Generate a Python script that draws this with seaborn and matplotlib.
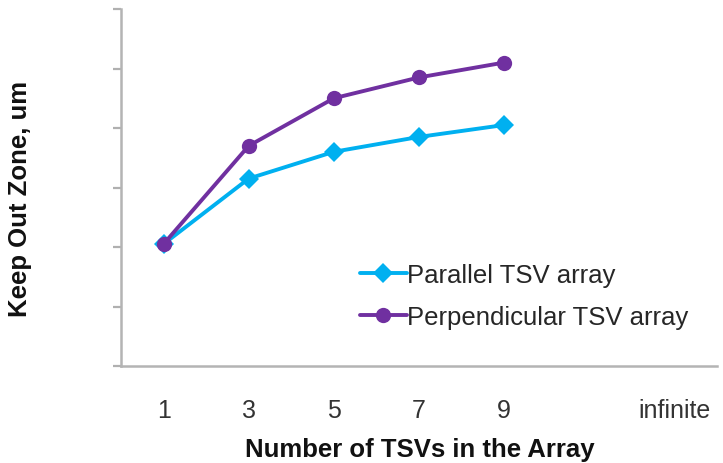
import numpy as np
import pandas as pd
import seaborn as sns
import matplotlib.pyplot as plt

# categories on the x axis (one empty slot before "infinite")
x_labels = ["1", "3", "5", "7", "9", " ", "infinite"]
tsv_counts = ["1", "3", "5", "7", "9"]

# keep out zone, um
parallel = [20.5, 31.5, 36.0, 38.5, 40.5]
perpendicular = [20.5, 37.0, 45.0, 48.5, 51.0]

y_ticks = [0, 10, 20, 30, 40, 50, 60]

sns.set_style("white")
plt.rcParams["font.family"] = ["Liberation Sans", "DejaVu Sans"]

pos = [x_labels.index(c) for c in tsv_counts]
df = pd.DataFrame({
    "pos": pos * 2,
    "kz": parallel + perpendicular,
    "series": ["Parallel TSV array"] * len(pos) + ["Perpendicular TSV array"] * len(pos),
})

fig = plt.figure(figsize=(7.23, 4.64), dpi=100)
ax = fig.add_axes([121 / 723, 97 / 464, 596 / 723, 357 / 464])

sns.lineplot(data=df[df.series == "Parallel TSV array"], x="pos", y="kz",
             color="#00B0F0", marker="D", markersize=10, linewidth=2.8,
             markeredgewidth=0, label="Parallel TSV array", ax=ax)
sns.lineplot(data=df[df.series == "Perpendicular TSV array"], x="pos", y="kz",
             color="#7030A0", marker="o", markersize=11, linewidth=2.8,
             markeredgewidth=0, label="Perpendicular TSV array", ax=ax)

ax.set_xlim(-0.5, len(x_labels) - 0.5)
ax.set_ylim(y_ticks[0], y_ticks[-1])
ax.set_xticks(range(len(x_labels)))
ax.set_xticklabels(x_labels)
ax.set_yticks(y_ticks)
ax.set_yticklabels([])
ax.tick_params(axis="x", length=0, pad=23, labelsize=18, labelcolor="#333333")
ax.tick_params(axis="y", left=True, direction="out", length=6, width=1.6,
               color="#b0b0b0")

for side in ["top", "right"]:
    ax.spines[side].set_visible(False)
for side in ["left", "bottom"]:
    ax.spines[side].set_color("#b4b4b4")
    ax.spines[side].set_linewidth(1.8)

ax.set_xlabel("Number of TSVs in the Array", fontsize=18.5, fontweight="bold",
              color="#111111")
ax.set_ylabel("Keep Out Zone, um", fontsize=18.5, fontweight="bold",
              color="#111111")
ax.xaxis.set_label_coords(0.502, -0.2)
ax.yaxis.set_label_coords(-0.149, 0.47)

ax.legend(loc="upper left", bbox_to_anchor=(350 / 723, 1 - 254 / 464),
          bbox_transform=fig.transFigure, frameon=False, fontsize=18.5,
          handlelength=1.8, handletextpad=0.0, labelspacing=0.7,
          borderaxespad=0)

fig.savefig("out.png", dpi=100)
